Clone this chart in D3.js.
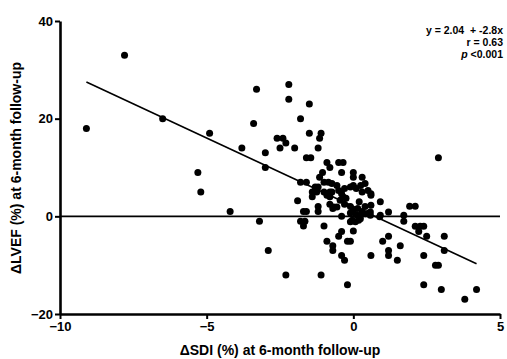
<!DOCTYPE html>
<html>
<head>
<meta charset="utf-8">
<script src="https://cdn.jsdelivr.net/npm/d3@7"></script>
<style>
  body { margin: 0; background: #fff; }
  svg { display: block; font-family: "Liberation Sans", Arial, sans-serif; }
</style>
</head>
<body>
<svg id="chart" width="507" height="359"></svg>
<script>
// delta SDI (%) and delta LVEF (%) per patient
const sdi = [
  -9.1, -7.8, -6.5, -4.9, -5.3, -5.2, -4.2, -3.2, -3.3, -3.4, -3.8, -3.0, -3.0, -2.9, -2.3, -1.1, -0.2,
  -2.2, -2.2, -1.5, -1.8, -2.6, -2.4, -2.3, -2.5, -2.0, -1.5, -1.1, -1.15, -1.2, -1.6, -1.45,
  -0.9, -0.8, -0.5, -0.35, -0.4, 0.0, 0.0, 0.3, 0.4, -1.15, -1.05, -1.8, -1.6, -1.2, -1.3,
  -1.4, -1.25, -1.4, -0.8, -0.8, -1.0, -0.85, -0.73, -0.56, -1.0, -0.9, -0.73,
  -0.5, -0.4, -0.3, -0.35, -0.25, -0.45,
  -0.1, 0.0, 0.1, 0.25, 0.3, 0.5, 0.6, 0.6,
  0.2, 0.92, -1.9,
  -1.2, -1.2, -1.6, -1.7, -0.67, -0.56, -0.8, -0.7,
  -0.3, -0.1, 0.0, 0.15, 0.3, 0.4, 0.5, 0.6, 0.58, 0.3, 0.1, -0.1, 0.24, 0.41, 0.58, 0.92, 1.2, 0.9,
  1.72, 1.72, 1.92, 2.11,
  -1.8, -1.65, -1.7, -1.0, -0.4, -0.1, 0.07, 0.24, -0.04, 0.18,
  0.0, -0.4, -0.5, -0.9, -0.2, -0.1, -0.7, -0.7, -0.4, -0.3, 0.6, 1.0, 1.2, 1.2, 1.2, 1.5, 1.6,
  2.11, 2.28, 2.4, 2.23, 2.5, 3.1, 3.1, 2.4, 2.8, 2.9, 2.4, 3.0, 3.8, 4.2, 2.9
];
const lvef = [
  18, 33, 20, 17, 9, 5, 1, -1, 26, 19, 14, 13, 10, -7, -12, -12, -14,
  27, 24, 23, 20, 16, 16, 15, 14, 14, 17, 17, 16, 14, 12, 12,
  11, 10, 11, 11, 9, 9, 8, 8, 6.7, 8, 9, 7, 7, 6, 6,
  4, 5, 5, 5, 4, 7, 7, 6.7, 6.3, 5, 4.3, 5,
  5.3, 4.6, 5.7, 4, 3.7, 3.3,
  6, 6.3, 5.7, 6.3, 5, 5.3, 4.6, 4.3,
  3, 3, 3.2,
  2, 1, 1, 1, 1.9, 1.9, 2.5, 1.6,
  2.5, 2, 1.2, 1.6, 1, 2, 0.6, 2.25, 0.9, 0.6, 0.3, 0.7, 0.2, 0.55, 0.2, 0.2, 0.9, -0.1,
  0.2, -1.0, 2.05, 2.05,
  -1, -1, -2, -2, 0, -1.1, -1.1, -0.5, -0.8, -0.8,
  -3, -3.1, -4.1, -5.1, -5.1, -5.1, -6, -7, -8, -9, -8, -5.1, -4.1, -7, -8, -9, -6,
  -2.05, -2.05, -2.05, -3.1, -4.1, -4.1, -7, -8, -10, -10, -14, -15, -17, -15, 12
];
const xTicks = [-10, -5, 0, 5];
const yTicks = [-20, 0, 20, 40];
const fitIntercept = 2.04;
const fitSlope = -2.8;
const fitRange = [-9.1, 4.2];
const statLines = ["y = 2.04\u00a0\u00a0+ -2.8x", "r = 0.63", "<0.001"];

const svg = d3.select('#chart');
const x = d3.scaleLinear().domain([-10, 5]).range([60, 500]);
const y = d3.scaleLinear().domain([-20, 40]).range([314, 21]);

const points = sdi.map((d, i) => ({x: d, y: lvef[i]}));

// zero reference line
svg.append('line')
  .attr('x1', x(-10)).attr('x2', x(5))
  .attr('y1', y(0)).attr('y2', y(0))
  .attr('stroke', '#000').attr('stroke-width', 1.6);

// regression line
svg.append('path')
  .datum(fitRange)
  .attr('fill', 'none')
  .attr('stroke', '#000')
  .attr('stroke-width', 1.6)
  .attr('d', d3.line().x(d => x(d)).y(d => y(fitIntercept + fitSlope * d)));

svg.append('g')
  .selectAll('circle')
  .data(points)
  .join('circle')
  .attr('cx', d => x(d.x))
  .attr('cy', d => y(d.y))
  .attr('r', 3.5)
  .attr('fill', '#000');

const styleAxis = g => {
  g.select('.domain').attr('stroke-width', 2.6).attr('stroke', '#000');
  g.selectAll('.tick line').attr('stroke-width', 2).attr('stroke', '#000');
  g.selectAll('.tick text')
    .attr('font-size', 13).attr('font-weight', 'bold').attr('fill', '#000')
    .attr('font-family', '"Liberation Sans", Arial, sans-serif');
};

svg.append('g')
  .attr('transform', `translate(0,${y(-20)})`)
  .call(d3.axisBottom(x).tickValues(xTicks).tickSize(5).tickSizeOuter(0).tickPadding(3))
  .call(styleAxis);

svg.append('g')
  .attr('transform', `translate(${x(-10)},0)`)
  .call(d3.axisLeft(y).tickValues(yTicks).tickSize(5).tickSizeOuter(0).tickPadding(2))
  .call(styleAxis);

// axis titles
svg.append('text')
  .attr('x', 280).attr('y', 355)
  .attr('text-anchor', 'middle')
  .attr('font-size', 14).attr('font-weight', 'bold')
  .text('ΔSDI (%) at 6-month follow-up');

svg.append('text')
  .attr('transform', 'translate(21,168) rotate(-90)')
  .attr('text-anchor', 'middle')
  .attr('font-size', 14).attr('font-weight', 'bold')
  .text('ΔLVEF (%) at 6-month follow-up');

// fit statistics
const stats = svg.append('g')
  .attr('font-size', 10.5).attr('font-weight', 'bold')
  .attr('text-anchor', 'end');
stats.append('text').attr('x', 503).attr('y', 34).text(statLines[0]);
stats.append('text').attr('x', 503).attr('y', 46).text(statLines[1]);
const pLine = stats.append('text').attr('x', 503).attr('y', 58);
pLine.append('tspan').attr('font-style', 'italic').text('p\u00a0');
pLine.append('tspan').text(statLines[2]);
</script>
</body>
</html>
